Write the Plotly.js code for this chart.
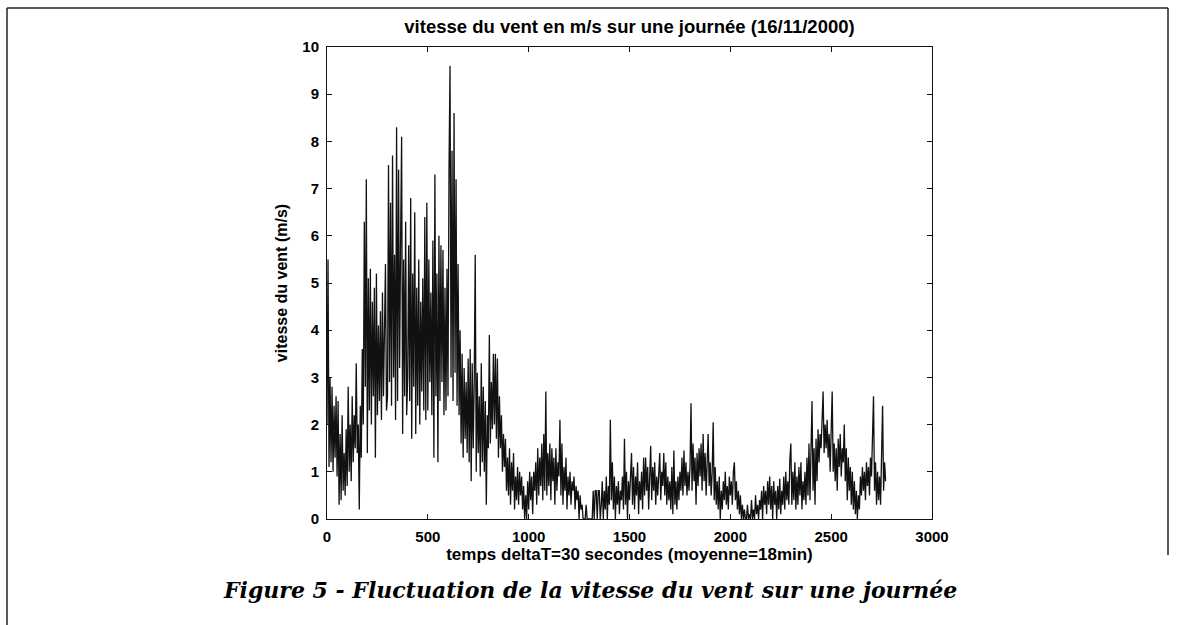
<!DOCTYPE html>
<html>
<head>
<meta charset="utf-8">
<script src="https://cdn.plot.ly/plotly-3.0.1.min.js"></script>
<style>
  html, body { margin: 0; padding: 0; background: #fff; }
  #chart { width: 1183px; height: 625px; }
</style>
</head>
<body>
<div id="chart"></div>
<script>
// Wind speed samples (m/s), one value every 5 time steps
const sampleStep = 5;

const vitesse0000 = [
  2.0,5.5,1.1,3.0,1.2,2.8,1.0,2.4,1.3,2.6,0.9,2.5,0.3,1.8,0.4,2.2,0.6,1.4,0.5,1.9,
  0.7,2.8,1.0,2.0,0.8,2.6,1.2,2.2,1.5,3.3,1.4,2.0,0.2,2.4,1.3,3.6,2.0,6.3,2.8,7.2,
  1.4,5.1,2.3,5.3,2.0,4.6,2.6,4.9,1.3,5.2,2.2,4.1,2.5,4.4,2.1,4.8,2.6,4.3,5.4,2.3,
  2.6,7.5,2.9,6.7,2.4,7.7,3.0,5.6,2.1,8.3,2.5,7.4,3.2,5.9,8.1,1.8,5.5,2.6,6.3,2.2,
  3.0,5.8,2.5,6.8,1.7,5.2,2.8,6.5,1.8,4.9,2.4,5.5,2.0,4.6,2.7,5.1,2.3,6.4,2.1,6.7
];
const vitesse0500 = [
  2.3,5.5,2.9,4.8,2.2,5.9,1.3,7.3,2.6,5.2,1.2,6.0,2.5,5.8,2.9,5.7,2.2,4.9,2.3,5.3,
  2.6,7.4,9.6,3.0,7.8,2.5,8.6,3.1,7.2,2.4,5.4,2.2,4.0,1.6,3.5,1.3,3.2,1.7,2.9,1.4,
  3.4,1.2,3.6,0.8,3.3,1.5,2.9,5.6,1.0,3.1,1.4,2.6,0.9,3.3,1.2,2.8,1.0,2.5,0.3,2.2,
  1.5,3.9,1.6,2.9,1.9,3.5,2.0,3.5,1.7,3.4,1.3,2.6,1.5,2.2,1.0,1.8,1.1,1.7,0.6,1.3,
  0.5,1.5,0.3,1.2,0.6,1.4,0.2,0.9,0.4,1.1,0.3,1.0,0.5,0.9,0.2,0.7,0.0,0.5,0.0,0.8
];
const vitesse1000 = [
  0.2,1.0,0.4,0.9,0.1,1.0,0.6,1.2,0.3,1.5,0.5,1.3,0.7,1.6,0.4,1.8,0.6,2.7,0.5,1.4,
  0.7,1.6,0.4,1.5,0.8,1.3,0.3,1.5,0.6,1.2,0.9,2.1,0.5,1.6,0.3,1.1,0.6,1.3,0.2,0.9,
  0.5,1.0,0.3,0.8,0.6,0.9,0.2,0.7,0.4,0.6,0.0,0.5,0.2,0.3,0.0,0.0,0.0,0.3,0.0,0.0,
  0.0,0.0,0.0,0.0,0.6,0.0,0.6,0.6,0.0,0.6,0.6,0.0,0.3,0.8,0.0,0.6,0.2,0.9,0.0,0.7,
  0.3,2.1,0.4,1.2,0.2,0.9,0.0,0.7,0.3,0.8,0.1,0.6,0.4,0.9,0.2,1.7,0.3,1.0,0.0,0.8
];
const vitesse1500 = [
  0.4,0.9,1.4,0.3,1.1,0.2,0.9,0.5,1.2,0.1,0.8,0.4,1.0,0.2,1.3,0.5,1.3,0.6,1.1,0.2,
  0.9,1.55,0.4,1.1,0.6,1.2,0.3,0.9,0.5,1.0,1.4,0.4,1.0,0.7,1.4,0.5,1.2,0.3,0.9,0.4,
  0.8,0.2,1.1,0.1,1.45,0.3,0.8,0.2,0.9,0.4,1.0,0.6,1.3,0.5,1.45,0.7,1.2,0.5,1.0,0.6,
  1.1,2.45,0.6,1.6,0.8,1.3,0.3,1.4,0.7,1.5,0.9,1.6,0.6,1.8,0.8,1.4,0.5,1.2,1.8,0.7,
  1.2,0.5,1.0,2.05,0.4,1.1,0.3,0.8,0.2,0.9,0.0,0.6,0.2,0.8,0.4,1.0,0.3,0.7,0.2,0.9
];
const vitesse2000 = [
  0.5,0.8,0.3,1.0,1.2,0.4,0.8,0.2,0.6,0.1,0.5,0.0,0.3,0.0,0.2,0.0,0.0,0.3,0.0,0.1,
  0.0,0.4,0.0,0.2,0.0,0.5,0.1,0.3,0.0,0.4,0.2,0.6,0.0,0.7,0.3,0.6,0.1,0.8,0.3,0.9,
  0.2,0.7,0.0,0.8,0.3,0.6,0.0,0.7,0.2,0.85,0.1,0.6,0.3,0.9,0.2,1.0,0.4,0.8,0.3,1.25,
  1.6,0.3,1.0,0.4,1.2,0.2,0.9,0.3,1.1,0.5,1.2,0.2,0.8,0.4,1.0,0.3,1.3,0.5,1.6,0.4,
  1.3,2.5,0.6,1.5,0.3,1.7,0.8,1.9,1.2,1.8,1.5,2.1,2.7,1.4,2.0,1.5,2.1,1.3,1.8,1.0
];
const vitesse2500 = [
  1.9,2.7,1.0,1.6,0.8,1.5,0.6,1.7,1.1,1.8,0.9,1.5,1.2,2.0,0.8,1.5,0.4,1.3,0.6,1.1,
  0.3,1.0,0.2,0.8,0.1,0.6,0.0,0.5,0.2,0.9,0.5,1.1,0.6,1.0,0.4,1.2,0.7,1.1,0.5,1.3,
  0.9,1.8,2.6,0.6,1.2,0.3,1.0,0.4,0.9,0.3,1.1,2.4,0.6,1.2,0.8
];

const xTickVals = [0, 500, 1000, 1500, 2000, 2500, 3000];
const yTickVals = [0, 1, 2, 3, 4, 5, 6, 7, 8, 9, 10];

const vitesse = [].concat(vitesse0000, vitesse0500, vitesse1000, vitesse1500, vitesse2000, vitesse2500);
const temps = vitesse.map((_, i) => i * sampleStep);

// plot area in pixels: x 327..932, y 47..519
const L = 327, R = 932, T = 47, B = 519, W = 1183, H = 625;
const px = x => (x - L) / (R - L);
const py = y => (B - y) / (B - T);

const sansFont = 'Liberation Sans, Arial, Helvetica, sans-serif';

const trace = {
  x: temps, y: vitesse, type: 'scatter', mode: 'lines',
  line: { color: '#111', width: 1.3 }, hoverinfo: 'skip'
};

const axisCommon = {
  showgrid: false, zeroline: false, showline: true, linecolor: '#111', linewidth: 1,
  mirror: 'ticks', ticks: 'inside', ticklen: 5, tickwidth: 1, tickcolor: '#111',
  tickfont: { family: sansFont, size: 15, color: '#000', weight: 'bold' }, fixedrange: true
};

const layout = {
  width: W, height: H,
  margin: { l: L, r: W - R, t: T, b: H - B, pad: 0 },
  paper_bgcolor: '#fff', plot_bgcolor: '#fff',
  showlegend: false,
  title: {
    text: 'vitesse du vent en m/s sur une journée (16/11/2000)',
    font: { family: sansFont, size: 18.5, color: '#000', weight: 'bold' },
    xref: 'paper', x: 0.5, xanchor: 'center',
    yref: 'container', y: 1 - 27 / H, yanchor: 'middle'
  },
  xaxis: Object.assign({}, axisCommon, {
    range: [0, 3000], tickvals: xTickVals, ticktext: xTickVals.map(String),
    ticklabelstandoff: 4,
    title: { text: 'temps deltaT=30 secondes (moyenne=18min)', font: { family: sansFont, size: 17, color: '#000', weight: 'bold' }, standoff: 4 }
  }),
  yaxis: Object.assign({}, axisCommon, {
    range: [0, 10], tickvals: yTickVals, ticktext: yTickVals.map(String),
    ticklabelstandoff: 4,
    title: { text: 'vitesse du vent (m/s)', font: { family: sansFont, size: 16, color: '#000', weight: 'bold' }, standoff: 10 }
  }),
  shapes: [
    { type: 'line', xref: 'paper', yref: 'paper', x0: px(7), x1: px(7), y0: py(8), y1: py(625), line: { color: '#222', width: 1.5 } },
    { type: 'line', xref: 'paper', yref: 'paper', x0: px(7), x1: px(1168), y0: py(8), y1: py(8), line: { color: '#222', width: 1.5 } },
    { type: 'line', xref: 'paper', yref: 'paper', x0: px(1168), x1: px(1168), y0: py(8), y1: py(555), line: { color: '#222', width: 1.5 } }
  ],
  annotations: [
    {
      text: '<b><i>Figure 5 - Fluctuation de la vitesse du vent sur une journée</i></b>',
      xref: 'paper', yref: 'paper', x: px(590), y: py(590), xanchor: 'center', yanchor: 'middle',
      showarrow: false, font: { family: 'DejaVu Serif, serif', size: 22, color: '#000' }
    }
  ]
};

Plotly.newPlot('chart', [trace], layout, { staticPlot: true, displayModeBar: false });
</script>
</body>
</html>
